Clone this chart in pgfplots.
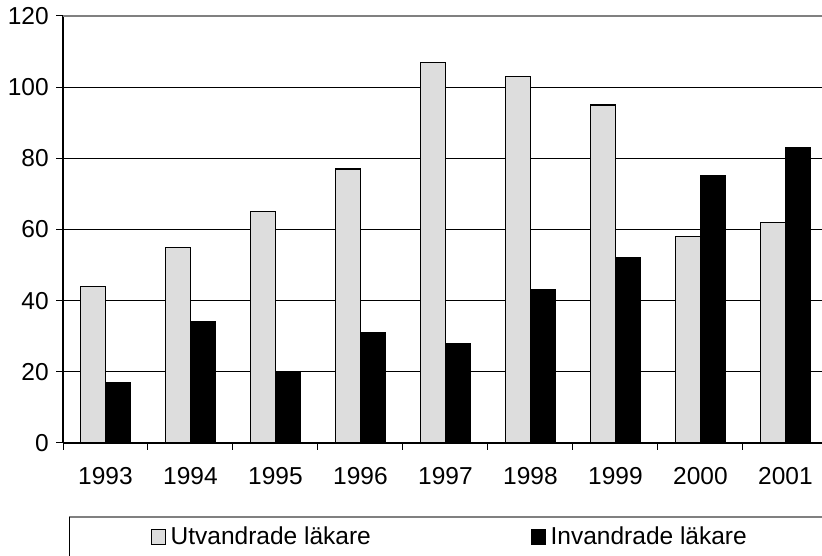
\documentclass[border=0pt]{standalone}
\usepackage{fontspec}
\setmainfont{Liberation Sans}
\usepackage{pgfplots}
\pgfplotsset{compat=1.18}
\definecolor{lightbar}{HTML}{DDDDDD}
\begin{document}
\fontsize{24.5}{29}\selectfont
\begin{tikzpicture}[x=1pt,y=1pt]
\useasboundingbox (0,0) rectangle (822,556);
\begin{axis}[
  at={(63pt,113pt)}, anchor=south west,
  scale only axis, width=759pt, height=427pt,
  xmin=-0.5, xmax=8.43, ymin=0, ymax=120,
  ybar=0pt, bar width=25pt,
  axis x line*=bottom, axis y line*=left,
  axis line style={-, black, line width=1.5pt},
  ytick={0,20,...,100}, extra y ticks={120},
  extra y tick style={major grid style={color=gray, line width=2pt}},
  ymajorgrids, grid style={black, line width=0.8pt},
  xtick={0,...,8},
  xticklabels={1993,1994,1995,1996,1997,1998,1999,2000,2001},
  major x tick style={draw=none},
  minor xtick={-0.5,0.5,...,7.5},
  tick align=outside, major tick length=7pt, minor tick length=7pt,
  tick style={black, line width=1pt},
  ticklabel style={font=\fontsize{24.5}{29}\selectfont},
  xticklabel style={yshift=-9pt},
  yticklabel style={xshift=1pt},
  /pgf/number format/assume math mode=true,
  legend style={draw=none, fill=none, inner sep=0pt, outer sep=0pt,
    at={(0.1159,-0.2213)}, anchor=west, legend columns=2,
    font=\fontsize{24.5}{29}\selectfont,
    /tikz/every even column/.append style={column sep=158pt}},
  legend image code/.code={\draw[#1, line width=1.5pt] (0pt,-7pt) rectangle (14pt,8pt);\path[draw=none, fill=none] (0pt,0pt) -- (17pt,0pt);},
]
\addplot[fill=lightbar, draw=black, line width=1.5pt] coordinates {
 (0,44) (1,55) (2,65) (3,77) (4,107) (5,103) (6,95) (7,58) (8,62)};
\addplot[fill=black, draw=black, line width=1.5pt] coordinates {
 (0,17) (1,34) (2,20) (3,31) (4,28) (5,43) (6,52) (7,75) (8,83)};
\legend{Utvandrade läkare, Invandrade läkare}
\end{axis}
\draw[gray, line width=2pt] (69,39) -- (830,39);
\draw[black, line width=1pt] (69,39) -- (69,-5);
\end{tikzpicture}
\end{document}
